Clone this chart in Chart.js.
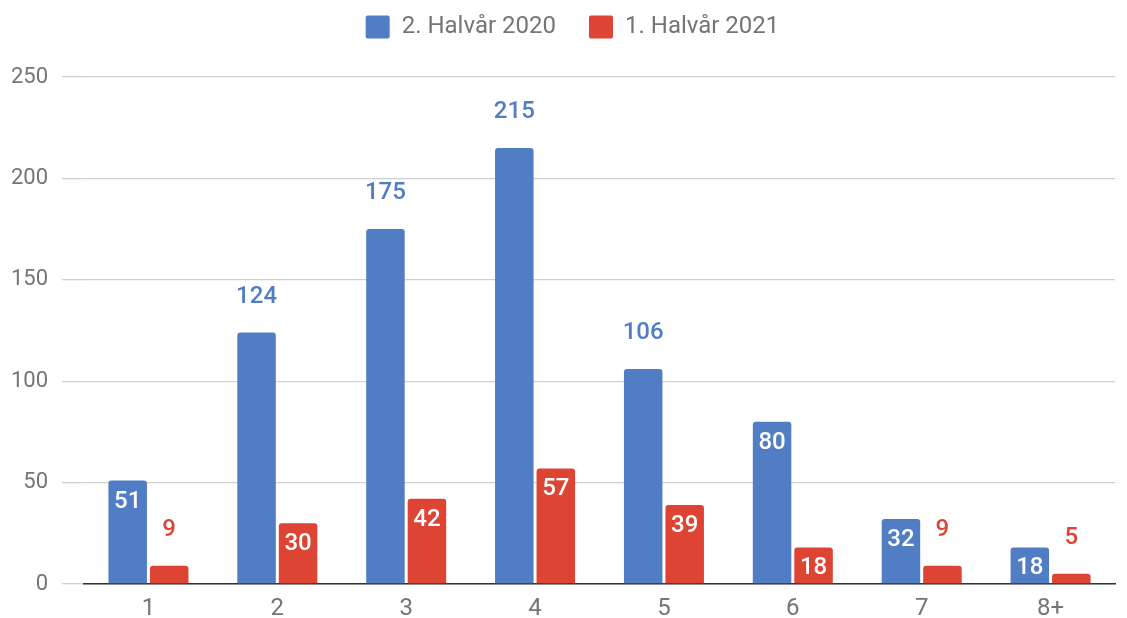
<!DOCTYPE html>
<html><head><meta charset="utf-8">
<script src="https://cdn.jsdelivr.net/npm/chart.js@4/dist/chart.umd.min.js"></script>
<style>html,body{margin:0;padding:0;background:#fff}#wrap{width:1127px;height:618px}</style>
</head><body><div id="wrap"><canvas id="c" width="1127" height="618"></canvas></div>
<script>
const categories = ['1','2','3','4','5','6','7','8+'];
const series2020 = [51,124,175,215,106,80,32,18];
const series2021 = [9,30,42,57,39,18,9,5];
const seriesNames = ['2. Halvår 2020','1. Halvår 2021'];
const yTicks = [0,50,100,150,200,250];

const BLUE = '#517DC4', RED = '#DD4434', GREY = '#757575';
const FONT = 'Roboto, "Noto Sans", sans-serif';

const labelPlugin = {
  id: 'barLabels',
  afterDatasetsDraw(chart) {
    const ctx = chart.ctx;
    ctx.save();
    ctx.font = '500 24px ' + FONT;
    ctx.textAlign = 'center';
    ctx.textBaseline = 'middle';
    chart.data.datasets.forEach((ds, di) => {
      const meta = chart.getDatasetMeta(di);
      meta.data.forEach((bar, i) => {
        const v = ds.data[i];
        const outside = v >= 100 || v < 10;
        if (outside) {
          ctx.fillStyle = ds.backgroundColor;
          ctx.fillText(String(v), bar.x, bar.y - 36);
        } else {
          ctx.fillStyle = '#ffffff';
          ctx.fillText(String(v), bar.x, bar.y + 21);
        }
      });
    });
    ctx.restore();
  }
};

const legendFix = {
  id: 'legendFix',
  beforeLayout(chart) {
    const lg = chart.legend;
    if (lg && !lg._fixed) {
      const f = lg.fit.bind(lg);
      lg.fit = function () { f(); this.height = 95; };
      const d = lg.draw.bind(lg);
      lg.draw = function () { const c = this.ctx; c.save(); c.translate(15, 0); d(); c.restore(); };
      lg._fixed = true;
    }
  }
};

new Chart(document.getElementById('c'), {
  type: 'bar',
  data: {
    labels: categories,
    datasets: [
      { label: seriesNames[0], data: series2020, backgroundColor: BLUE,
        borderRadius: {topLeft: 3, topRight: 3}, borderSkipped: 'start',
        categoryPercentage: 0.644, barPercentage: 0.928 },
      { label: seriesNames[1], data: series2021, backgroundColor: RED,
        borderRadius: {topLeft: 3, topRight: 3}, borderSkipped: 'start',
        categoryPercentage: 0.644, barPercentage: 0.928 }
    ]
  },
  options: {
    responsive: false,
    animation: false,
    layout: { padding: { left: 0, right: 12, top: -18, bottom: 0 } },
    plugins: {
      legend: {
        position: 'top',
        labels: { color: GREY, font: { family: FONT, size: 24 }, boxWidth: 24, boxHeight: 23, padding: 33, useBorderRadius: true, borderRadius: 2 }
      },
      tooltip: { enabled: false }
    },
    scales: {
      x: {
        grid: { display: false },
        border: { color: '#333333', width: 1.5 },
        ticks: { color: GREY, font: { family: FONT, size: 24 }, padding: 3 },
        afterFit(s) { s.height = 34; }
      },
      y: {
        min: 0, max: 250,
        afterBuildTicks(s) { s.ticks = yTicks.map(v => ({ value: v })); },
        grid: { color: '#d0d0d0', lineWidth: 1.3, tickLength: 22, tickColor: '#d0d0d0' },
        border: { display: false },
        ticks: { color: GREY, font: { family: FONT, size: 22 }, padding: 14 },
        afterFit(s) { s.width = 84; }
      }
    }
  },
  plugins: [labelPlugin, legendFix]
});
</script></body></html>
